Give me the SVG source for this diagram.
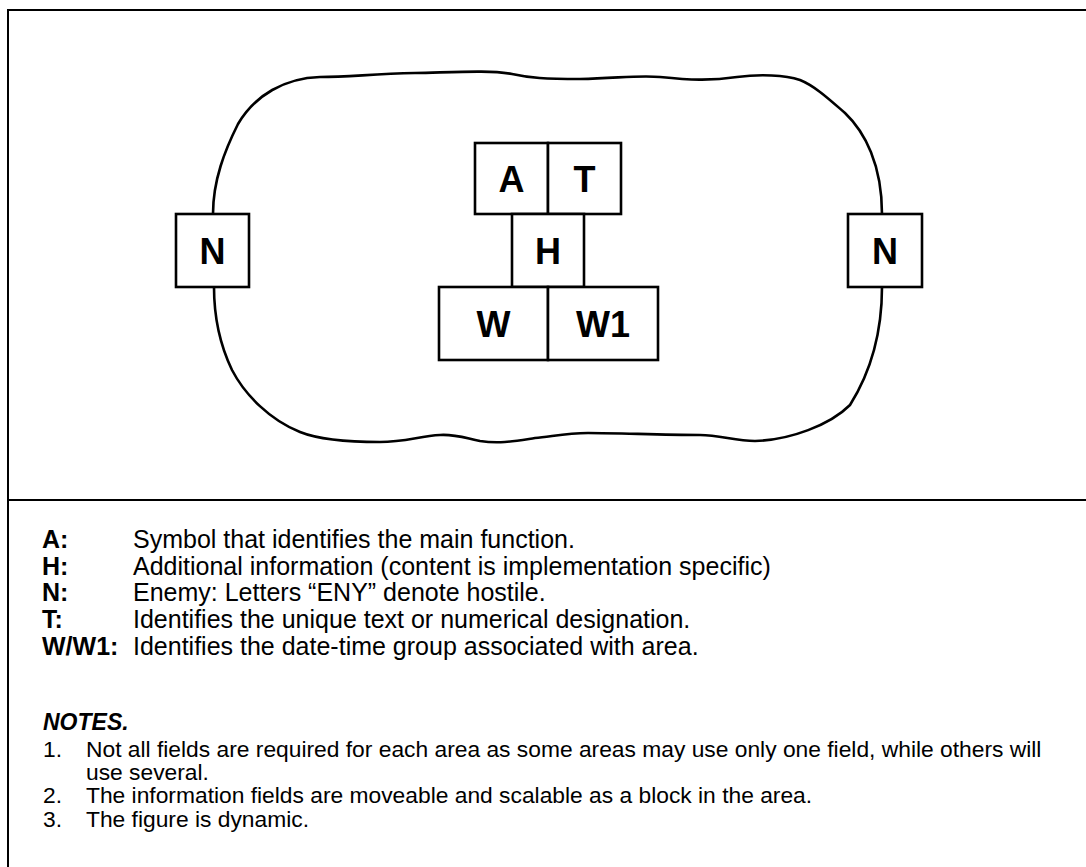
<svg xmlns="http://www.w3.org/2000/svg" width="1086" height="867" viewBox="0 0 1086 867">
<style>
.frame{fill:none;stroke:#000;stroke-width:2}
.blob{fill:none;stroke:#000;stroke-width:2.6;stroke-linejoin:round}
.box{fill:#fff;stroke:#000;stroke-width:2.6}
.bl{font-family:"Liberation Sans",Arial,sans-serif;font-weight:bold;font-size:36px;text-anchor:middle;fill:#000}
.lk{font-family:"Liberation Sans",Arial,sans-serif;font-weight:bold;font-size:25px;fill:#000}
.lt{font-family:"Liberation Sans",Arial,sans-serif;font-size:25px;fill:#000}
.nh{font-family:"Liberation Sans",Arial,sans-serif;font-weight:bold;font-style:italic;font-size:23px;fill:#000}
.nt{font-family:"Liberation Sans",Arial,sans-serif;font-size:22.8px;fill:#000}
</style>
<rect width="1086" height="867" fill="#fff"/>
<g id="frame">
<path class="frame" d="M8,867 V10 H1090"/>
<line class="frame" x1="8" y1="500" x2="1090" y2="500"/>
</g>
<g id="connectors">
<path class="blob" d="M213,214 C213,180 225,150 238,124 C255,95 285,78 320,77 C350,77 370,74 415,73 C460,72 490,70 512,74 C530,78 545,79 580,79 C620,78 640,75 660,77 C690,80 710,81 737,77 C760,74 785,75 800,80 C815,86 830,100 845,113 C865,132 882,165 882,214 L882,287 C882,330 872,370 850,405 C830,425 790,440 755,441 C735,441 720,435 700,435 C660,435 620,433 588,433 C565,433 550,437 535,438 C515,441 500,444 480,441 C465,438 455,434 440,435 C420,436 405,442 380,442 C350,442 320,440 300,432 C270,420 245,395 232,370 C220,345 214,315 214,287 Z"/>
</g>
<g id="node-A"><rect class="box" x="475" y="143" width="73" height="71"/><text class="bl" x="511.5" y="192">A</text></g>
<g id="node-T"><rect class="box" x="548" y="143" width="73" height="71"/><text class="bl" x="584.5" y="192">T</text></g>
<g id="node-H"><rect class="box" x="512" y="214" width="72" height="73"/><text class="bl" x="548" y="264">H</text></g>
<g id="node-W"><rect class="box" x="439" y="287" width="109" height="73"/><text class="bl" x="493.5" y="337">W</text></g>
<g id="node-W1"><rect class="box" x="548" y="287" width="110" height="73"/><text class="bl" x="603" y="337">W1</text></g>
<g id="node-N-left"><rect class="box" x="176" y="214" width="73" height="73"/><text class="bl" x="212.5" y="264">N</text></g>
<g id="node-N-right"><rect class="box" x="848" y="214" width="74" height="73"/><text class="bl" x="885" y="264">N</text></g>
<g id="legend">
<text class="lk" x="42" y="548">A:</text><text class="lt" x="133" y="548">Symbol that identifies the main function.</text>
<text class="lk" x="42" y="575">H:</text><text class="lt" x="133" y="575">Additional information (content is implementation specific)</text>
<text class="lk" x="42" y="601">N:</text><text class="lt" x="133" y="601">Enemy: Letters “ENY” denote hostile.</text>
<text class="lk" x="42" y="628">T:</text><text class="lt" x="133" y="628">Identifies the unique text or numerical designation.</text>
<text class="lk" x="42" y="655">W/W1:</text><text class="lt" x="133" y="655">Identifies the date-time group associated with area.</text>
</g>
<g id="notes">
<text class="nh" x="43" y="730">NOTES.</text>
<text class="nt" x="43" y="756.5">1.</text><text class="nt" x="86" y="756.5">Not all fields are required for each area as some areas may use only one field, while others will</text>
<text class="nt" x="86" y="780">use several.</text>
<text class="nt" x="43" y="803">2.</text><text class="nt" x="86" y="803">The information fields are moveable and scalable as a block in the area.</text>
<text class="nt" x="43" y="826.5">3.</text><text class="nt" x="86" y="826.5">The figure is dynamic.</text>
</g>
</svg>
